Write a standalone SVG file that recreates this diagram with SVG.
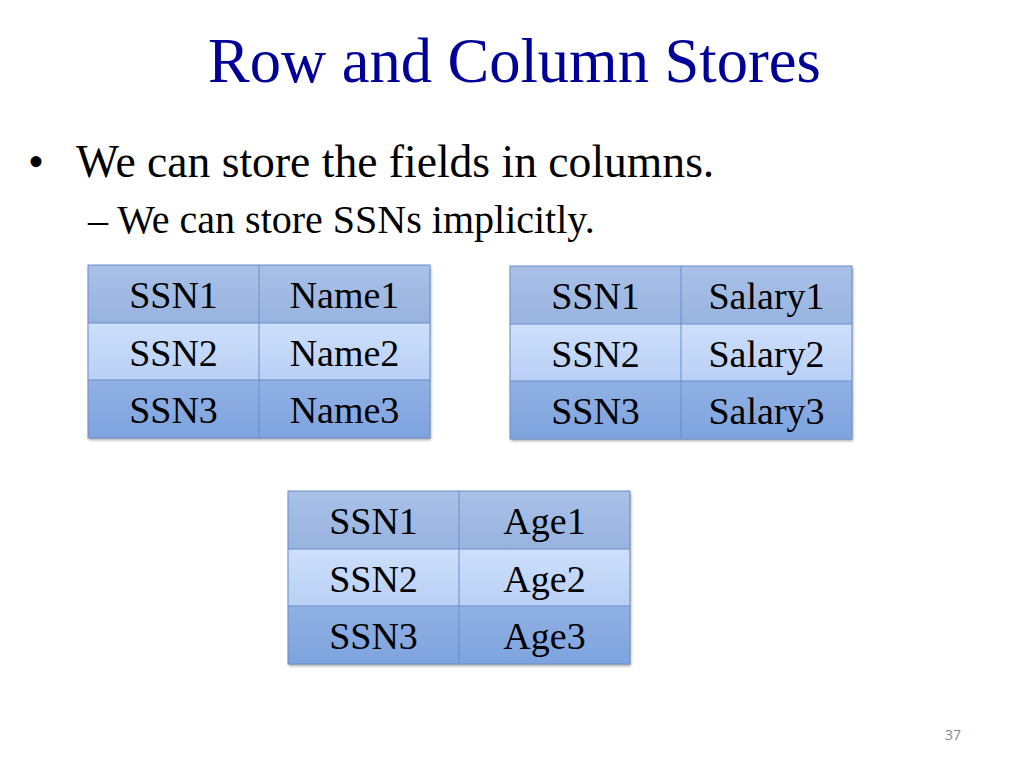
<svg xmlns="http://www.w3.org/2000/svg" width="1024" height="768" viewBox="0 0 1024 768">
<style>
.title{font-family:"Liberation Serif","Times New Roman",serif;font-size:62.5px;fill:#000099}
.b1{font-family:"Liberation Serif","Times New Roman",serif;font-size:45.6px;fill:#000}
.b2{font-family:"Liberation Serif","Times New Roman",serif;font-size:40px;fill:#000}
.cell{font-family:"Liberation Serif","Times New Roman",serif;font-size:38px;fill:#000;text-anchor:middle}
.pg{font-family:"Open Sans","Liberation Sans",sans-serif;font-size:14px;fill:#8a8a8a}
.grid{stroke:#6a8cc8;stroke-width:1;fill:none}
</style>
<defs>
<linearGradient id="r1" x1="0" y1="0" x2="0" y2="1"><stop offset="0" stop-color="#a9c1e8"/><stop offset="1" stop-color="#98b3df"/></linearGradient>
<linearGradient id="r2" x1="0" y1="0" x2="0" y2="1"><stop offset="0" stop-color="#cddffc"/><stop offset="1" stop-color="#b9cff4"/></linearGradient>
<linearGradient id="r3" x1="0" y1="0" x2="0" y2="1"><stop offset="0" stop-color="#91b1e4"/><stop offset="1" stop-color="#7ea3de"/></linearGradient>
<filter id="sh" x="-5%" y="-5%" width="110%" height="115%"><feDropShadow dx="1" dy="2" stdDeviation="1.5" flood-color="#000" flood-opacity="0.35"/></filter>
<g id="tbl">
<rect x="0" y="0" width="342" height="173" fill="#fff" filter="url(#sh)"/>
<rect x="0" y="0" width="342" height="58" fill="url(#r1)"/>
<rect x="0" y="58" width="342" height="57" fill="url(#r2)"/>
<rect x="0" y="115" width="342" height="58" fill="url(#r3)"/>
<rect class="grid" x="0" y="0" width="342" height="173"/>
<path class="grid" d="M0 58H342M0 115H342M171 0V173"/>
</g>
</defs>
<rect width="1024" height="768" fill="#fff"/>
<text class="title" x="208" y="82">Row and Column Stores</text>
<text class="b1" x="28" y="177">•</text>
<text class="b1" x="76" y="177">We can store the fields in columns.</text>
<text class="b2" x="88" y="233">– We can store SSNs implicitly.</text>
<g id="table-name" transform="translate(88,265)">
<use href="#tbl"/>
<text class="cell" x="85.5" y="43">SSN1</text><text class="cell" x="256.5" y="43">Name1</text>
<text class="cell" x="85.5" y="101">SSN2</text><text class="cell" x="256.5" y="101">Name2</text>
<text class="cell" x="85.5" y="158">SSN3</text><text class="cell" x="256.5" y="158">Name3</text>
</g>
<g id="table-salary" transform="translate(510,266)">
<use href="#tbl"/>
<text class="cell" x="85.5" y="43">SSN1</text><text class="cell" x="256.5" y="43">Salary1</text>
<text class="cell" x="85.5" y="101">SSN2</text><text class="cell" x="256.5" y="101">Salary2</text>
<text class="cell" x="85.5" y="158">SSN3</text><text class="cell" x="256.5" y="158">Salary3</text>
</g>
<g id="table-age" transform="translate(288,491)">
<use href="#tbl"/>
<text class="cell" x="85.5" y="43">SSN1</text><text class="cell" x="256.5" y="43">Age1</text>
<text class="cell" x="85.5" y="101">SSN2</text><text class="cell" x="256.5" y="101">Age2</text>
<text class="cell" x="85.5" y="158">SSN3</text><text class="cell" x="256.5" y="158">Age3</text>
</g>
<g id="connectors"/>
<text class="pg" x="945" y="740">37</text>
</svg>
